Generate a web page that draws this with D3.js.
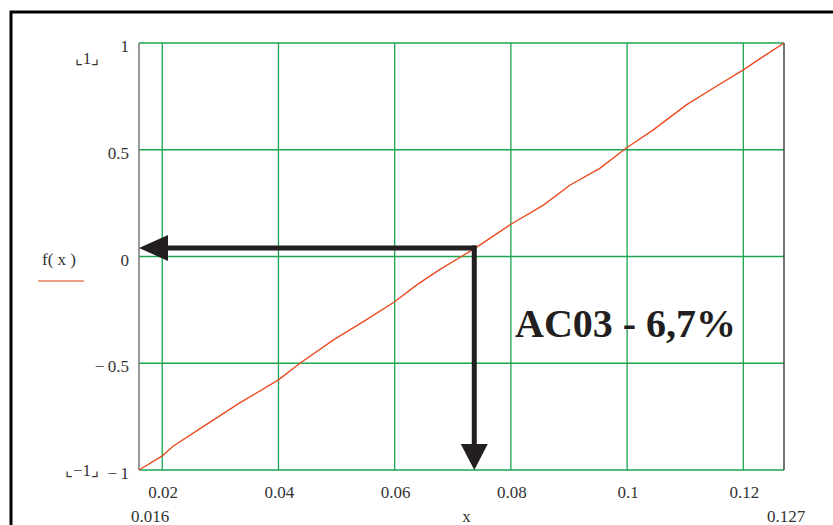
<!DOCTYPE html>
<html>
<head>
  <meta charset="utf-8">
  <title>AC03 - 6,7%</title>
  <script src="https://cdn.jsdelivr.net/npm/d3@7"></script>
  <style>
    body { margin: 0; background: #fff; }
    svg text { font-family: "Liberation Serif", "Times New Roman", serif; fill: #333; }
  </style>
</head>
<body>
  <div id="chart"></div>
  <script>
    // values
    var xs = [0.016, 0.020, 0.0218, 0.0275, 0.0332, 0.040, 0.0437, 0.0496, 0.0551, 0.060,
              0.0638, 0.0678, 0.0715, 0.0738, 0.080, 0.0856, 0.0902, 0.0953, 0.0998, 0.1045,
              0.1102, 0.1148, 0.120, 0.1234, 0.127];
    var fx = [-1, -0.934, -0.89, -0.789, -0.688, -0.578, -0.50, -0.388, -0.297, -0.212,
              -0.133, -0.06, 0.0, 0.038, 0.151, 0.241, 0.335, 0.413, 0.507, 0.593,
              0.71, 0.788, 0.874, 0.936, 1.0];
    var xTicks = [0.02, 0.04, 0.06, 0.08, 0.1, 0.12];
    var yTicks = [1, 0.5, 0, -0.5, -1];
    var xLimits = [0.016, 0.127];
    var yLimits = [-1, 1];
    var arrowAt = [0.0737, 0.04];   // corner of the two arrows
    var note = "AC03 - 6,7%";

    var W = 833, H = 525;
    var plot = {left: 139, right: 784, top: 43, bottom: 470};

    var svg = d3.select("#chart").append("svg")
      .attr("width", W).attr("height", H);

    // outer frame
    svg.append("rect")
      .attr("x", 11).attr("y", 12)
      .attr("width", 900).attr("height", 600)
      .attr("fill", "none").attr("stroke", "#000").attr("stroke-width", 3);

    var x = d3.scaleLinear().domain(xLimits).range([plot.left, plot.right]);
    var y = d3.scaleLinear().domain(yLimits).range([plot.bottom, plot.top]);

    // grid
    var grid = svg.append("g").attr("stroke", "#1aa64f").attr("stroke-width", 1.3);
    grid.selectAll("line.v").data(xTicks).enter().append("line")
      .attr("x1", function(d) { return x(d); }).attr("x2", function(d) { return x(d); })
      .attr("y1", plot.top).attr("y2", plot.bottom);
    grid.selectAll("line.h").data(yTicks).enter().append("line")
      .attr("x1", plot.left).attr("x2", plot.right)
      .attr("y1", function(d) { return y(d); }).attr("y2", function(d) { return y(d); });

    // left axis and right border
    svg.append("line").attr("x1", plot.left).attr("x2", plot.left)
      .attr("y1", plot.top).attr("y2", plot.bottom)
      .attr("stroke", "#777").attr("stroke-width", 1.5);
    svg.append("line").attr("x1", plot.right).attr("x2", plot.right)
      .attr("y1", plot.top).attr("y2", plot.bottom)
      .attr("stroke", "#444").attr("stroke-width", 1.5);

    // tick labels
    var fmtY = function(d) { return d < 0 ? "\u2212\u2009" + Math.abs(d) : String(d); };
    svg.selectAll("text.yt").data(yTicks).enter().append("text")
      .attr("x", 129).attr("y", function(d) { return y(d) + 9; })
      .attr("text-anchor", "end").attr("font-size", 17)
      .text(fmtY);
    svg.selectAll("text.xt").data(xTicks).enter().append("text")
      .attr("x", function(d) { return x(d) + 1; }).attr("y", 498)
      .attr("text-anchor", "middle").attr("font-size", 17)
      .text(function(d) { return String(d); });

    // range limits
    svg.append("text").attr("x", x(xLimits[0]) + 11).attr("y", 522)
      .attr("text-anchor", "middle").attr("font-size", 17).text(String(xLimits[0]));
    svg.append("text").attr("x", x(xLimits[1]) + 2).attr("y", 522)
      .attr("text-anchor", "middle").attr("font-size", 17).text(String(xLimits[1]));
    svg.append("text").attr("x", x(0.0715) + 5).attr("y", 522)
      .attr("text-anchor", "middle").attr("font-size", 17).text("x");
    svg.append("text").attr("x", 87).attr("y", y(yLimits[1]) + 21)
      .attr("text-anchor", "middle").attr("font-size", 17).text("\u231E1\u231F");
    svg.append("text").attr("x", 82).attr("y", y(yLimits[0]) + 6)
      .attr("text-anchor", "middle").attr("font-size", 17).text("\u231E\u22121\u231F");

    // legend
    svg.append("text").attr("x", 59).attr("y", 265)
      .attr("text-anchor", "middle").attr("font-size", 17).text("f( x )");
    svg.append("line").attr("x1", 38).attr("x2", 84).attr("y1", 281).attr("y2", 281)
      .attr("stroke", "#e9805c").attr("stroke-width", 1.5);

    // data line
    var pts = xs.map(function(d, i) { return [d, fx[i]]; });
    svg.append("path").datum(pts)
      .attr("fill", "none").attr("stroke", "#ec4a1f").attr("stroke-width", 1.4)
      .attr("d", d3.line()
        .x(function(d) { return x(d[0]); })
        .y(function(d) { return y(d[1]); }));

    // arrows
    var ax = x(arrowAt[0]), ay = y(arrowAt[1]);
    var ink = "#231f20";
    svg.append("line").attr("x1", ax + 2).attr("x2", x(xLimits[0]) + 25)
      .attr("y1", ay).attr("y2", ay).attr("stroke", ink).attr("stroke-width", 5);
    svg.append("path").attr("fill", ink)
      .attr("d", "M" + x(xLimits[0]) + "," + ay + "L" + (x(xLimits[0]) + 29) + "," + (ay - 13) +
                 "L" + (x(xLimits[0]) + 29) + "," + (ay + 13) + "Z");
    svg.append("line").attr("x1", ax).attr("x2", ax)
      .attr("y1", ay - 2.5).attr("y2", y(yLimits[0]) - 22)
      .attr("stroke", ink).attr("stroke-width", 5);
    svg.append("path").attr("fill", ink)
      .attr("d", "M" + ax + "," + y(yLimits[0]) + "L" + (ax - 13.5) + "," + (y(yLimits[0]) - 26) +
                 "L" + (ax + 13.5) + "," + (y(yLimits[0]) - 26) + "Z");

    // annotation
    svg.append("text").attr("x", 515).attr("y", 337)
      .attr("font-size", 40).attr("font-weight", "bold")
      .style("fill", ink).text(note);
  </script>
</body>
</html>
